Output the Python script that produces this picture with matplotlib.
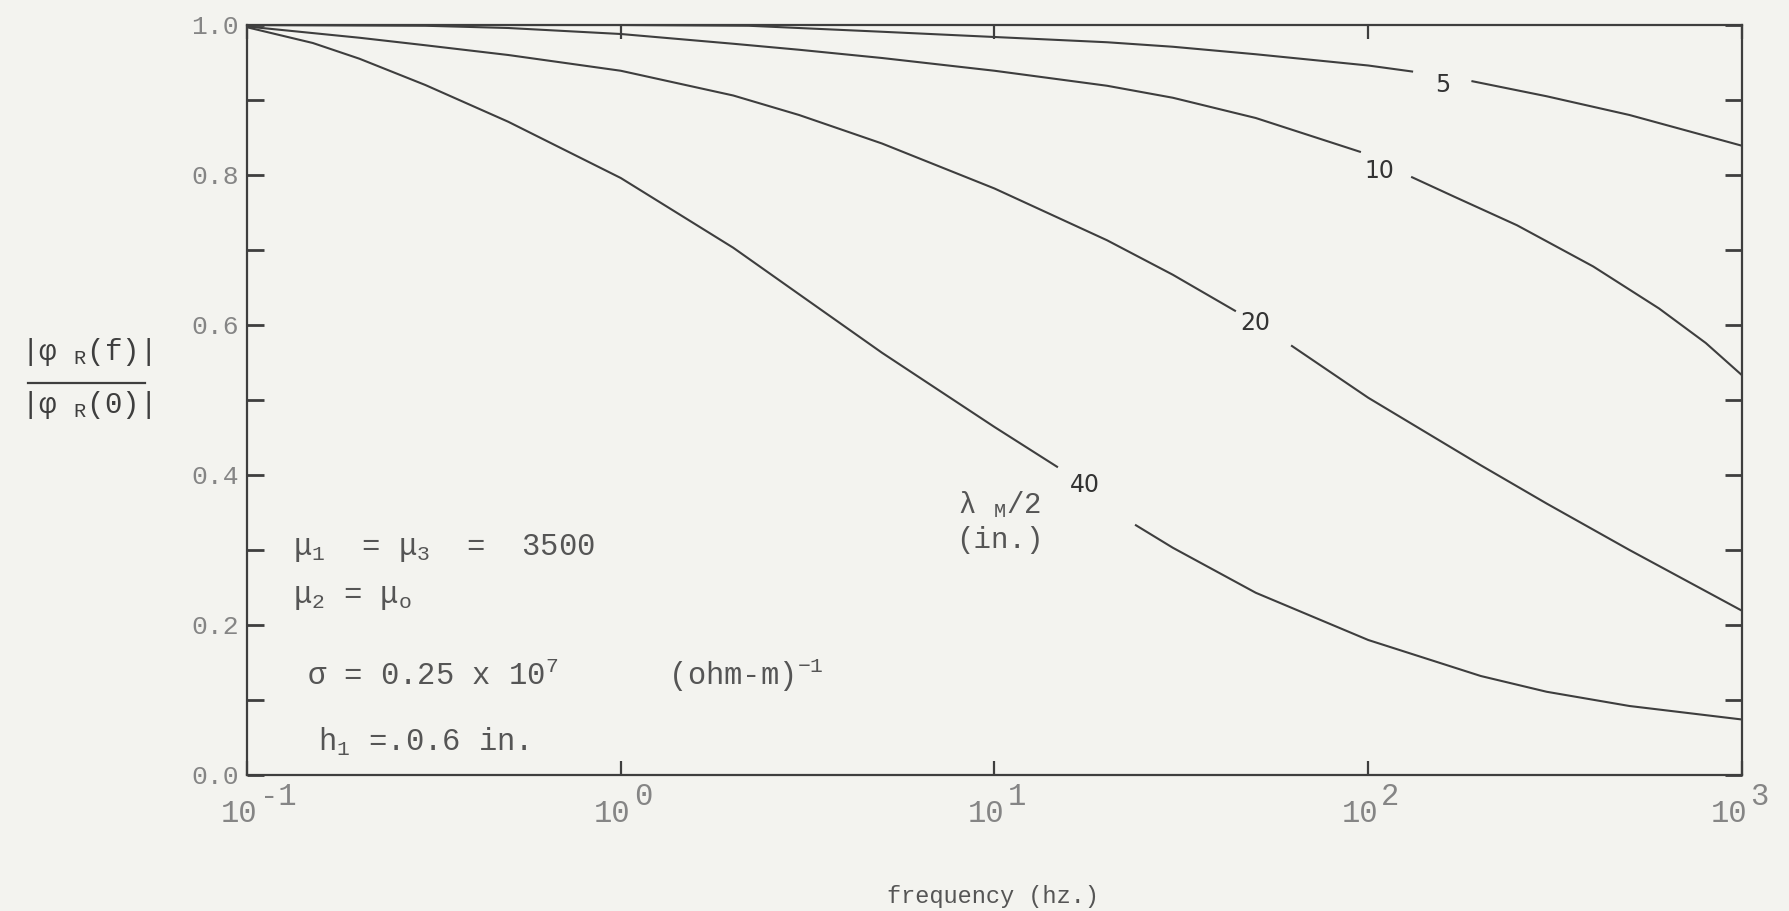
import numpy as np
import matplotlib
matplotlib.use("Agg")
import matplotlib.pyplot as plt
from matplotlib.lines import Line2D
from matplotlib.ticker import NullLocator

# ---------------- data ----------------
# curve labels: lambda_M/2 in inches
curve_labels = ["5", "10", "20", "40"]

freq_5 = [0.1, 1.0, 2.2, 5.0, 10, 20, 30, 50, 100, 131, 190, 300, 500, 1000]
ratio_5 = [1.0, 1.0, 0.999, 0.991, 0.984, 0.977, 0.971, 0.961, 0.946, 0.938,
           0.925, 0.905, 0.880, 0.839]

freq_10 = [0.1, 0.3, 0.5, 1, 2, 3, 5, 10, 20, 30, 50, 95, 131, 170, 250, 400,
           600, 800, 1000]
ratio_10 = [1.0, 0.999, 0.996, 0.988, 0.975, 0.967, 0.956, 0.939, 0.919, 0.903,
            0.876, 0.831, 0.797, 0.771, 0.733, 0.678, 0.622, 0.576, 0.533]

freq_20 = [0.1, 0.2, 0.3, 0.5, 1, 2, 3, 5, 10, 20, 30, 44, 62.5, 100, 200, 300,
           500, 1000]
ratio_20 = [0.998, 0.983, 0.973, 0.960, 0.939, 0.906, 0.880, 0.842, 0.782, 0.713,
            0.667, 0.619, 0.572, 0.503, 0.413, 0.362, 0.300, 0.219]

freq_40 = [0.1, 0.15, 0.2, 0.3, 0.5, 1, 2, 3, 5, 10, 14.7, 23.9, 30, 50, 100,
           200, 300, 500, 1000]
ratio_40 = [0.997, 0.976, 0.955, 0.920, 0.871, 0.796, 0.703, 0.641, 0.563, 0.464,
            0.411, 0.333, 0.303, 0.243, 0.180, 0.132, 0.111, 0.092, 0.074]

# index after which each curve is broken to make room for its label
gap_after = [9, 11, 11, 10]

y_ticks = [0.0, 0.1, 0.2, 0.3, 0.4, 0.5, 0.6, 0.7, 0.8, 0.9, 1.0]
y_ticklabels = ["0.0", "", "0.2", "", "0.4", "", "0.6", "", "0.8", "", "1.0"]
x_exponents = [-1, 0, 1, 2, 3]

# ---------------- style ----------------
plt.rcParams["font.family"] = ["Liberation Mono", "DejaVu Sans"]
plt.rcParams["mathtext.fontset"] = "custom"
plt.rcParams["mathtext.rm"] = "Liberation Mono"
plt.rcParams["mathtext.it"] = "Liberation Mono"
plt.rcParams["mathtext.bf"] = "Liberation Mono"

BG = "#f3f3ef"
INK = "#3e3e3e"
TEXT = "#555555"
TICKTXT = "#858585"

W, H = 1790, 911
fig = plt.figure(figsize=(W / 100, H / 100), dpi=100, facecolor=BG)


def px(x, y):
    return x / W, 1 - y / H


ax = fig.add_axes([247 / W, (H - 775) / H, (1742 - 247) / W, 750 / H])
ax.set_facecolor(BG)
ax.set_xscale("log")
ax.set_xlim(0.1, 1000)
ax.set_ylim(0, 1)

for s in ax.spines.values():
    s.set_color(INK)
    s.set_linewidth(1.6)

ax.set_xticks([10.0 ** e for e in x_exponents])
ax.xaxis.set_minor_locator(NullLocator())
ax.tick_params(axis="x", which="major", direction="in", length=10, width=1.6,
               color=INK, top=True, bottom=True, labelbottom=False)
ax.set_yticks(y_ticks)
ax.set_yticklabels(y_ticklabels)
ax.tick_params(axis="y", direction="in", length=12, width=2.0, color=INK,
               left=True, right=True, labelsize=19, labelcolor=TICKTXT, pad=6)

# ---------------- curves ----------------
series = [(freq_5, ratio_5), (freq_10, ratio_10), (freq_20, ratio_20),
          (freq_40, ratio_40)]
for (f, r), g in zip(series, gap_after):
    ax.plot(f[:g + 1], r[:g + 1], color=INK, lw=1.5, solid_joinstyle="round")
    ax.plot(f[g + 1:], r[g + 1:], color=INK, lw=1.5, solid_joinstyle="round")

# curve labels (between the broken segments)
label_pos = [(158, 0.920), (107, 0.805), (50, 0.602), (17.5, 0.387)]
for lab, (xl, yl) in zip(curve_labels, label_pos):
    ax.text(xl, yl, lab, ha="center", va="center", fontsize=17,
            family="DejaVu Sans", color="#333333")

# ---------------- x tick labels (10 with raised exponent) ----------------
for e in x_exponents:
    dx = 0 if e == 3 else 5
    ax.annotate("10", xy=(10.0 ** e, 0), xycoords=("data", "axes fraction"),
                xytext=(5 + dx, -39), textcoords="offset pixels",
                ha="right", va="center", fontsize=22, color=TICKTXT)
    ax.annotate(str(e), xy=(10.0 ** e, 0), xycoords=("data", "axes fraction"),
                xytext=(8 + dx, -22), textcoords="offset pixels",
                ha="left", va="center", fontsize=22, color=TICKTXT)

# ---------------- axis labels ----------------
fig.text(*px(993, 897), "frequency (hz.)", ha="center", va="center",
         fontsize=17, color=TEXT)

fig.text(*px(86, 352), r"|$\varphi$ $_{\rm R}$(f)|", ha="center",
         va="center", fontsize=21, color=INK)
fig.text(*px(86, 405), r"|$\varphi$ $_{\rm R}$(0)|", ha="center",
         va="center", fontsize=21, color=INK)
fig.add_artist(Line2D([28 / W, 145 / W], [1 - 383 / H, 1 - 383 / H],
                      transform=fig.transFigure, color=INK, lw=1.6))

# ---------------- annotations ----------------
fig.text(*px(293, 548), r"$\mu_{1}$  = $\mu_{3}$  =  3500", ha="left",
         va="center", fontsize=22, color=TEXT)
fig.text(*px(293, 597), r"$\mu_{2}$ = $\mu_{o}$", ha="left",
         va="center", fontsize=22, color=TEXT)
fig.text(*px(307, 675), r"$\sigma$ = 0.25 x 10$^{7}$      (ohm-m)$^{-1}$",
         ha="left", va="center", fontsize=22, color=TEXT)
fig.text(*px(318, 742), r"h$_{1}$ =.0.6 in.", ha="left", va="center",
         fontsize=22, color=TEXT)
fig.text(*px(1000, 505), r"$\lambda$ $_{\rm M}$/2", ha="center",
         va="center", fontsize=21, color=TEXT)
fig.text(*px(1000, 540), "(in.)", ha="center", va="center", fontsize=21,
         color=TEXT)

fig.savefig("out.png", dpi=100, facecolor=BG)
